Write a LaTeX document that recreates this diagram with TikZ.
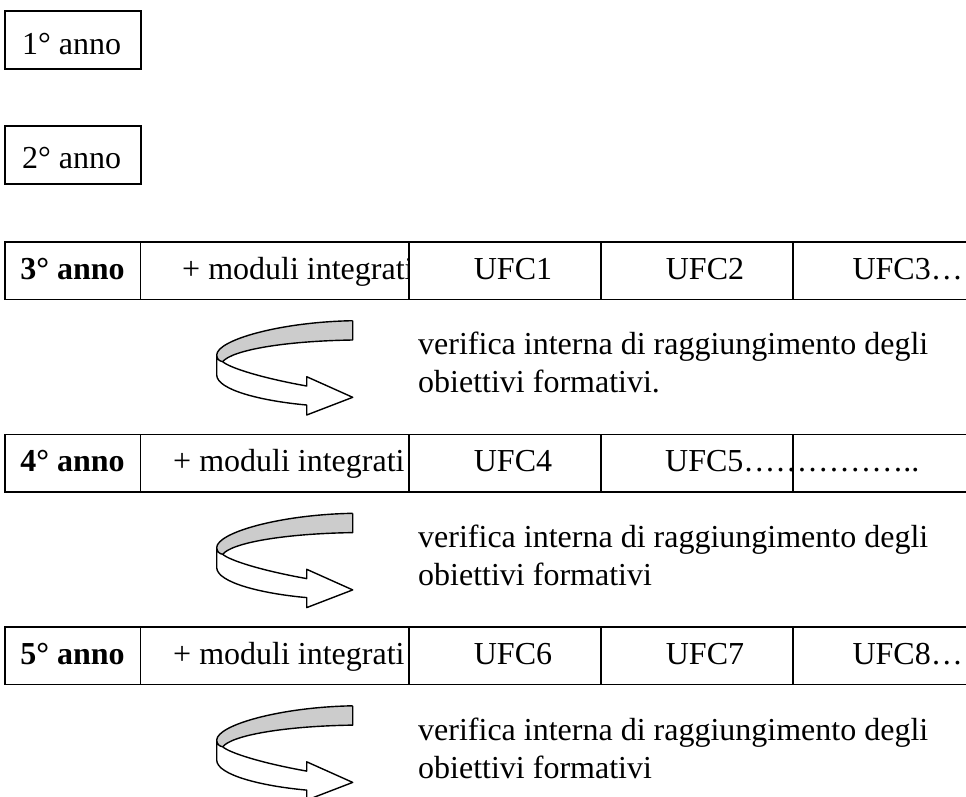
\documentclass[tikz,border=0pt]{standalone}
\usepackage{fontspec}
\setmainfont{Liberation Serif}
\tikzset{
  txt/.style={inner sep=0pt, font=\fontsize{32}{36}\selectfont},
  bl/.style={txt, anchor=base west},
  bc/.style={txt, anchor=base},
  br/.style={txt, anchor=base east},
  grid line/.style={line width=1.5pt, line cap=rect},
  ribbon/.style={line width=1.4pt, line join=round},
  pics/turnarrow/.style={code={
    \fill[black!20] (136,0) .. controls (63.3,1.3) and (0.3,19.3) .. (0,34.3)
       .. controls (0.3,38.3) and (2.3,40.3) .. (6,41)
       .. controls (15.3,29.3) and (68.3,20.3) .. (136,19.3) -- cycle;
    \draw[ribbon] (136,0) .. controls (63.3,1.3) and (0.3,19.3) .. (0,34.3)
       -- (0,54.3) .. controls (0.3,69.3) and (45.3,80.3) .. (90,84.3)
       -- (90,94.3) -- (136,76.6) -- (90,56) -- (90,65.3)
       .. controls (45.3,57.3) and (13.3,47.3) .. (6,41)
       .. controls (2.3,40.3) and (0.3,38.3) .. (0,34.3);
    \draw[ribbon] (136,0) -- (136,19.3)
       .. controls (68.3,20.3) and (15.3,29.3) .. (6,41);
  }}
}
\begin{document}
\begin{tikzpicture}[x=1pt,y=-1pt]
\useasboundingbox (0,0) rectangle (966,796);

% single boxes
\draw[grid line] (5,11) rectangle (141,69);
\node[bl] (y1) at (22,54) {1° anno};
\draw[grid line] (5,126) rectangle (141,184);
\node[bl] (y2) at (22,168) {2° anno};

% table rows
\foreach \t in {242,434.5,627}{
  \draw[grid line] (5,\t) -- (970,\t);
  \draw[grid line] (5,\t+57.5) -- (970,\t+57.5);
  \foreach \x in {5,140.5,409,601,793}{
    \draw[grid line] (\x,\t) -- (\x,\t+57.5);
  }
}

% row 3
\node[bc] (r3a) at (72.5,279) {\bfseries 3° anno};
\begin{scope}
  \clip (141,243) rectangle (408.3,298);
  \node[bl] (r3b) at (182,279) {+ moduli integrati};
\end{scope}
\node[bc] (r3c) at (513,279) {UFC1};
\node[bc] (r3d) at (705,279) {UFC2};
\node[br] (r3e) at (963,279) {UFC3…};

% row 4
\node[bc] (r4a) at (72.5,471.5) {\bfseries 4° anno};
\node[bl] (r4b) at (173,471.5) {+ moduli integrati};
\node[bc] (r4c) at (513,471.5) {UFC4};
\node[bl] (r4d) at (665,471.5) {UFC5……………..};

% row 5
\node[bc] (r5a) at (72.5,664) {\bfseries 5° anno};
\node[bl] (r5b) at (173,664) {+ moduli integrati};
\node[bc] (r5c) at (513,664) {UFC6};
\node[bc] (r5d) at (705,664) {UFC7};
\node[br] (r5e) at (963,664) {UFC8…};

% arrows
\pic at (216.7,320.7) {turnarrow};
\pic at (216.7,513.3) {turnarrow};
\pic at (216.7,705.8) {turnarrow};

% verification texts
\node[bl] (v1a) at (418,354) {verifica interna di raggiungimento degli};
\node[bl] (v1b) at (418,392) {obiettivi formativi.};
\node[bl] (v2a) at (418,547) {verifica interna di raggiungimento degli};
\node[bl] (v2b) at (418,585) {obiettivi formativi};
\node[bl] (v3a) at (418,740) {verifica interna di raggiungimento degli};
\node[bl] (v3b) at (418,778) {obiettivi formativi};
\end{tikzpicture}
\end{document}
